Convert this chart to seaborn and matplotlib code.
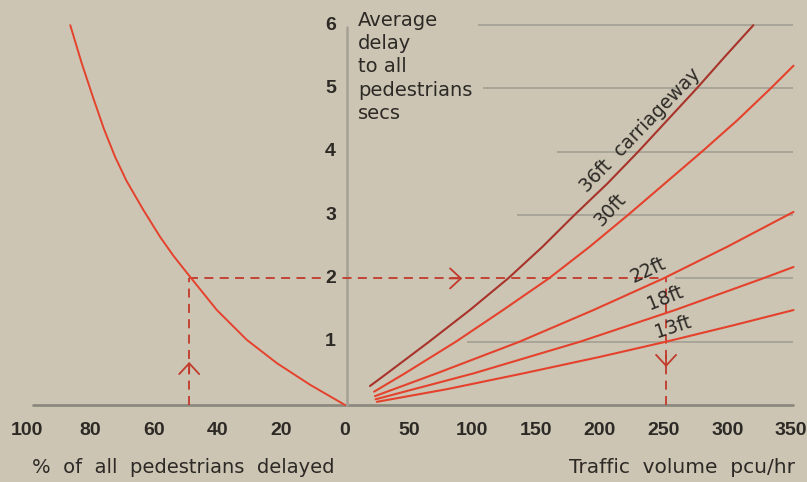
import matplotlib
matplotlib.use("Agg")
import matplotlib.pyplot as plt
import numpy as np
import pandas as pd
import seaborn as sns

# ---- data -------------------------------------------------------------
# left panel: share of pedestrians delayed (%) vs. average delay (s)
pct_delayed = [0, 11.0, 21.4, 30.9, 40.3, 48.8, 54.0, 58.2, 63.4, 68.7, 72.3,
               75.8, 79.1, 82.8, 86.4]
delay_pct = [0, 0.32, 0.66, 1.03, 1.50, 2.03, 2.36, 2.66, 3.08, 3.54, 3.92,
             4.36, 4.84, 5.40, 6.0]

# right panel: traffic volume (pcu/hr) vs. average delay (s), by carriageway width
flow_36 = [19.6, 33, 66, 98, 128, 155, 180, 206, 230, 253, 276, 298, 320.5]
delay_36 = [0.30, 0.5, 1.0, 1.5, 2.0, 2.5, 3.0, 3.5, 4.0, 4.5, 5.0, 5.5, 6.0]
flow_30 = [22.8, 47, 87, 124, 160, 192, 222, 251, 280, 308, 334, 352]
delay_30 = [0.21, 0.5, 1.0, 1.5, 2.0, 2.5, 3.0, 3.5, 4.0, 4.5, 5.0, 5.36]
flow_22 = [23.5, 72, 137, 195, 250, 300, 352]
delay_22 = [0.14, 0.5, 1.0, 1.5, 2.0, 2.5, 3.05]
flow_18 = [24, 101, 184.5, 259, 328, 352]
delay_18 = [0.09, 0.5, 1.0, 1.5, 2.0, 2.18]
flow_13 = [25, 80, 140, 200, 252, 305, 352]
delay_13 = [0.05, 0.25, 0.5, 0.76, 1.0, 1.26, 1.5]
widths = ["36ft", "30ft", "22ft", "18ft", "13ft"]

pct_ticks = [100, 80, 60, 40, 20, 0]
flow_ticks = [50, 100, 150, 200, 250, 300, 350]
delay_ticks = [1, 2, 3, 4, 5, 6]

# worked example: 49 % delayed -> 2 s -> 22ft road at ~252 pcu/hr
ex_pct, ex_delay, ex_flow = 49, 2.0, 252

# ---- style ------------------------------------------------------------
sns.set_theme(style="white")
BG = "#ccc5b4"
INK = "#2d2a26"
RED = "#e4422c"
DARK_RED = "#a8332a"
GRID = "#a9a599"
BOLD_FONT = "Liberation Sans"
plt.rcParams["font.family"] = ["DejaVu Sans"]

# left axis (% delayed) is folded onto the flow axis, mirrored about zero
PCT_TO_X = 3.18 / 1.274

fig = plt.figure(figsize=(8.07, 4.82), dpi=100, facecolor=BG)
ax = fig.add_axes([0, 62 / 482, 1, 420 / 482])
ax.set_facecolor(BG)
ax.set_xlim(-270.8, 362.6)
ax.set_ylim(-0.237, 6.398)
for s in ax.spines.values():
    s.set_visible(False)

# faint horizontal rules on the right-hand side
grid_start = {6: 104, 5: 108, 4: 166, 3: 135, 2: 259, 1: 96}
for lvl, x0 in grid_start.items():
    ax.plot([x0, 352], [lvl, lvl], color=GRID, lw=1.4, zorder=1, solid_capstyle="butt")

# base line and central delay axis
ax.plot([-245, 352], [0, 0], color="#8c897f", lw=2.0, zorder=2)
ax.plot([1.5, 1.5], [0, 5.97], color="#a4a094", lw=1.8, zorder=2)

# curves
left = pd.DataFrame({"x": -np.array(pct_delayed) * PCT_TO_X, "delay": delay_pct})
sns.lineplot(data=left, x="x", y="delay", sort=False, estimator=None,
             color=RED, lw=1.4, ax=ax, zorder=4)

right = pd.concat([
    pd.DataFrame({"flow": f, "delay": d, "width": w})
    for f, d, w in zip([flow_36, flow_30, flow_22, flow_18, flow_13],
                       [delay_36, delay_30, delay_22, delay_18, delay_13], widths)
])
palette = {"36ft": DARK_RED, "30ft": RED, "22ft": RED, "18ft": RED, "13ft": RED}
sns.lineplot(data=right, x="flow", y="delay", hue="width", units="width",
             palette=palette, sort=False, estimator=None, lw=1.5,
             legend=False, ax=ax, zorder=4)
ax.set_xlabel("")
ax.set_ylabel("")

# worked example (dashed construction lines with chevrons)
dash = dict(color="#c23a2c", lw=1.3, ls=(0, (5, 3.5)), zorder=3)
ex_x = -ex_pct * PCT_TO_X
ax.plot([ex_x, ex_x], [0, ex_delay], **dash)
ax.plot([ex_x, ex_flow], [ex_delay, ex_delay], **dash)
ax.plot([ex_flow, ex_flow], [0, ex_delay], **dash)
chev = dict(arrowstyle="->,head_length=0.65,head_width=0.6", color="#c23a2c",
            lw=1.3, shrinkA=0, shrinkB=0)
ax.annotate("", xy=(92, ex_delay), xytext=(82, ex_delay), arrowprops=chev, zorder=5)
ax.annotate("", xy=(ex_x, 0.68), xytext=(ex_x, 0.5), arrowprops=chev, zorder=5)
ax.annotate("", xy=(ex_flow, 0.6), xytext=(ex_flow, 0.78), arrowprops=chev, zorder=5)

# tick labels
xt = [-p * PCT_TO_X for p in pct_ticks] + flow_ticks
xl = [str(p) for p in pct_ticks] + [str(f) for f in flow_ticks]
ax.set_xticks(xt, xl)
ax.set_yticks([])
ax.tick_params(axis="x", length=0, pad=1.5, labelsize=14, labelcolor=INK)
for t in ax.get_xticklabels():
    t.set_family(BOLD_FONT)
    t.set_fontweight("bold")

for lvl in delay_ticks:
    ax.text(-7, lvl, str(lvl), ha="right", va="center", fontsize=14,
            family=BOLD_FONT, fontweight="bold", color=INK, zorder=6,
            bbox=dict(boxstyle="square,pad=0.12", fc=BG, ec="none"))

# axis titles
ax.text(10.2, 6.225, "Average\ndelay\nto all\npedestrians\nsecs", ha="left", va="top",
        fontsize=14, color=INK, linespacing=1.28)
ax.text(-246, -0.98, "%  of  all  pedestrians  delayed", ha="left", va="center",
        fontsize=14, color=INK)
ax.text(353, -0.98, "Traffic  volume  pcu/hr", ha="right", va="center",
        fontsize=14.5, color=INK)

# curve labels
lab = dict(color=INK, fontsize=13.5, ha="center", va="center", rotation_mode="anchor")
ax.text(231.5, 4.34, "36ft  carriageway", rotation=46, **lab)
ax.text(208, 3.08, "30ft", rotation=47, **lab)
ax.text(238, 2.13, "22ft", rotation=25, **lab)
ax.text(251, 1.69, "18ft", rotation=22, **lab)
ax.text(257.5, 1.23, "13ft", rotation=18, **lab)

fig.savefig("out.png", dpi=100, facecolor=BG)
